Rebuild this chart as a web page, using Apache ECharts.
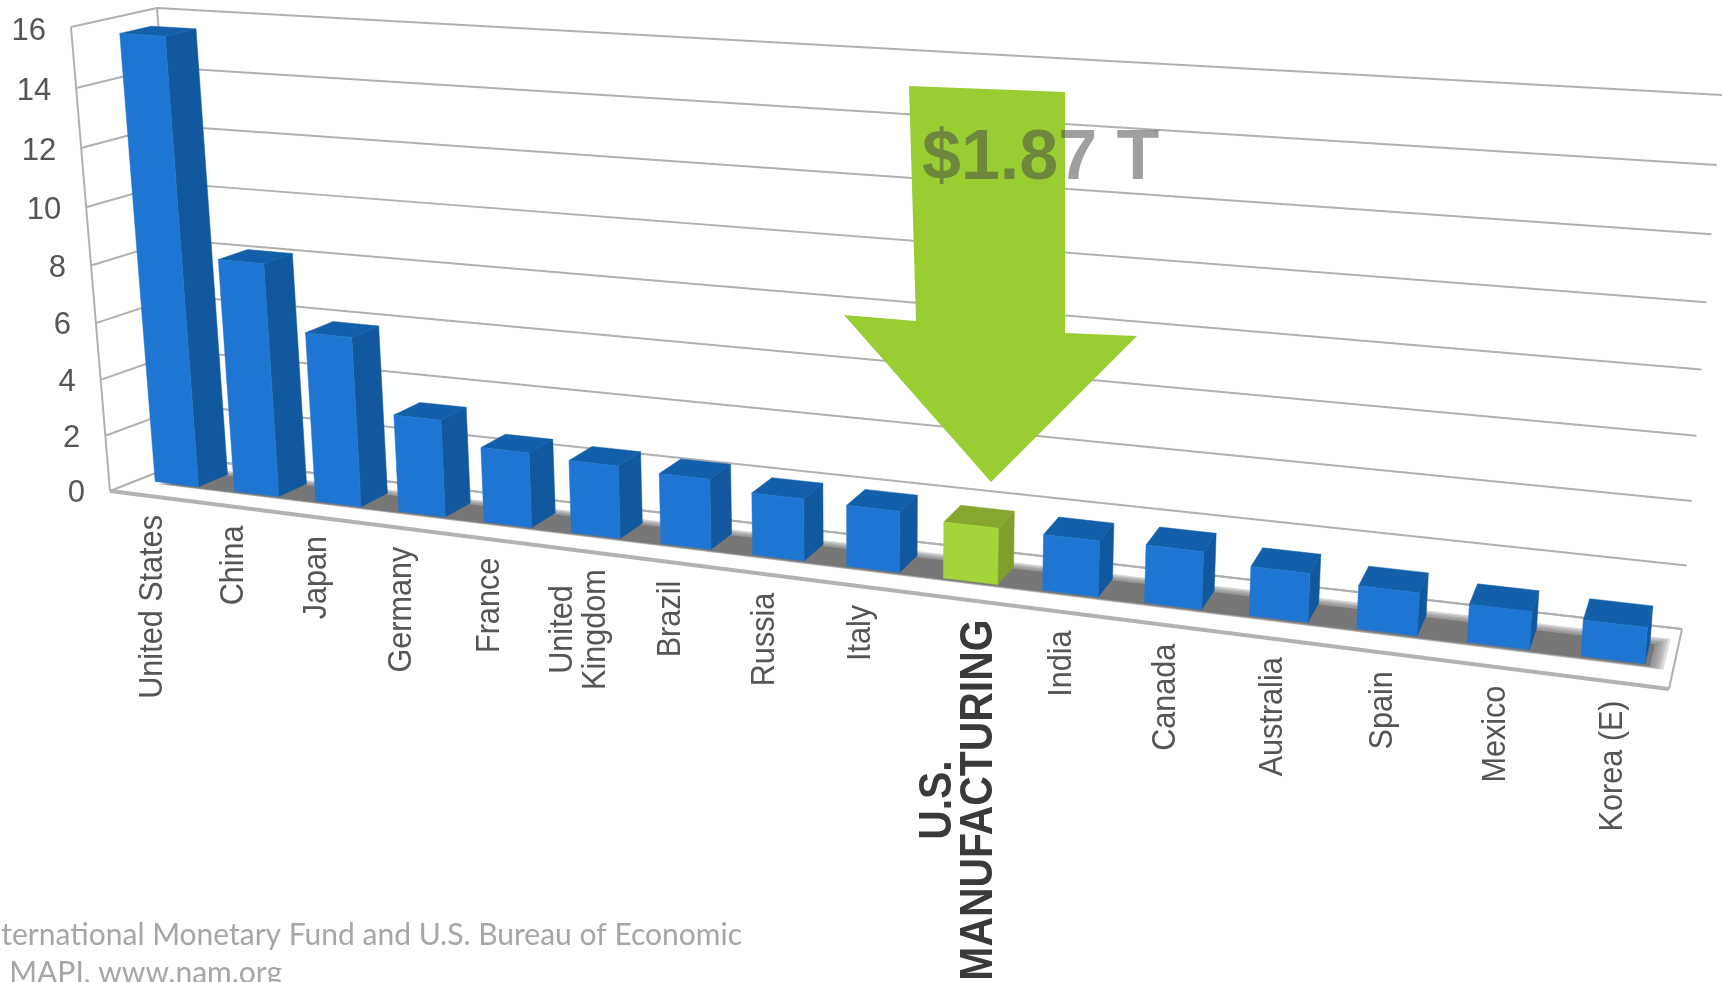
<!DOCTYPE html>
<html>
<head>
<meta charset="utf-8">
<title>GDP by country and U.S. manufacturing</title>
<style>html,body{margin:0;padding:0;background:#fff;overflow:hidden}#chart{width:1722px;height:982px}</style>
<script src="https://cdn.jsdelivr.net/npm/echarts@6/dist/echarts.min.js"></script>
</head>
<body>
<div id="chart"></div>
<script>
// Chart data, trillions of U.S. dollars
const categories = ['United States','China','Japan','Germany','France','United\nKingdom','Brazil','Russia','Italy','U.S.\nMANUFACTURING','India','Canada','Australia','Spain','Mexico','Korea (E)'];
const gdpValues = [15.6, 8.2, 5.95, 3.4, 2.6, 2.5, 2.4, 2.1, 2.05, 1.87, 1.84, 1.88, 1.58, 1.37, 1.2, 1.13];
const valueTicks = [0, 2, 4, 6, 8, 10, 12, 14, 16];
const highlightCategory = 'U.S.\nMANUFACTURING';
const calloutLabel = '$1.87 T';
const sourceLines = ['International Monetary Fund and U.S. Bureau of Economic', 'MAPI, www.nam.org'];

// Corners of the 3D chart box as seen on the page
const box = {
  frontBottomLeft: [110, 491], frontBottomRight: [1669, 689],
  backBottomLeft: [191, 459], backBottomRight: [1682, 629],
  frontTopLeft: [71, 27], frontTopRight: [1709, 139],
  backTopLeft: [157, 8], backTopRight: [1722, 95]
};
const widthPerspective = 1.23, heightPerspective = 1.058;
const barFill = 0.55, barShift = -0.02, barFront = 0.36, barBack = 0.73;
const bandFront = 0.33, bandBack = 0.7;

const lerp = (a, b, t) => [a[0] + (b[0] - a[0]) * t, a[1] + (b[1] - a[1]) * t];

// Turns a point of the cartesian grid plus a depth (0 front, 1 back) into a page position
function project(coordSys, px, py, depth) {
  const u = (px - coordSys.x) / coordSys.width;
  const w = 1 - (py - coordSys.y) / coordSys.height;
  const t = u / (u + widthPerspective * (1 - u));
  const v = w / (w + heightPerspective * (1 - w));
  const bottom = lerp(lerp(box.frontBottomLeft, box.frontBottomRight, t), lerp(box.backBottomLeft, box.backBottomRight, t), depth);
  const top = lerp(lerp(box.frontTopLeft, box.frontTopRight, t), lerp(box.backTopLeft, box.backTopRight, t), depth);
  return lerp(bottom, top, v);
}

const line = (a, b, color, width) => ({
  type: 'line',
  shape: { x1: a[0], y1: a[1], x2: b[0], y2: b[1] },
  style: { stroke: color, lineWidth: width, fill: null }
});
const face = (points, fill, extra) => ({
  type: 'polygon',
  shape: { points: points },
  style: Object.assign({ fill: fill, stroke: fill, lineWidth: 0.5 }, extra || {})
});

const measure = document.createElement('canvas').getContext('2d');
function longestLine(text, font) {
  measure.font = font;
  return Math.max.apply(null, text.split('\n').map(s => measure.measureText(s).width));
}

const GRID_COLOR = '#b0b0b0';

// Gridlines on the back and side walls, with the value labels
function renderTick(params, api) {
  const cs = params.coordSys;
  const tick = api.value(0);
  const y = api.coord([0, tick])[1];
  const xl = cs.x, xr = cs.x + cs.width;
  const frontLeft = project(cs, xl, y, 0);
  const backLeft = project(cs, xl, y, 1);
  const backRight = project(cs, xr, y, 1);
  return {
    type: 'group',
    children: [
      line(frontLeft, backLeft, GRID_COLOR, 2),
      line(backLeft, backRight, GRID_COLOR, 2),
      {
        type: 'text', x: frontLeft[0] - 25, y: frontLeft[1] + 2 + tick / 8,
        style: { text: String(tick), fontFamily: '"Liberation Sans"', fontSize: 31, fill: '#555555', textAlign: 'right', textVerticalAlign: 'middle' }
      }
    ]
  };
}

// Vertical wall edges, floor outline and the soft dark band under the bars
function renderFloor(params, api) {
  const cs = params.coordSys;
  const xl = cs.x, xr = cs.x + cs.width, yb = cs.y + cs.height, yt = cs.y;
  const P = (x, y, d) => project(cs, x, y, d);
  const band = cs.width / categories.length;
  const softness = [1, 0.8, 0.6, 0.4, 0.2, 0];
  const layers = softness.map(s => {
    const x0 = xl + band * (0.42 - 0.12 * s), x1 = xr - band * (0.2 - 0.12 * s);
    const z0 = bandFront - 0.03 * s, z1 = bandBack + 0.12 * s;
    return face([P(x0, yb, z0), P(x1, yb, z0), P(x1, yb, z1), P(x0, yb, z1)], '#777777', { opacity: s === 0 ? 1 : 0.26, lineWidth: 0 });
  });
  return {
    type: 'group',
    children: [
      line(P(xl, yb, 0), P(xl, yt, 0), GRID_COLOR, 2),
      line(P(xl, yb, 1), P(xl, yt, 1), GRID_COLOR, 2),
      line(P(xl, yb, 1), P(xr, yb, 1), GRID_COLOR, 2),
      line(P(xr, yb, 0), P(xr, yb, 1), GRID_COLOR, 2),
      line(P(xl, yb, 0), P(xr, yb, 0), '#b2b2b2', 4)
    ].concat(layers)
  };
}

// One box per category, with its rotated axis label
function renderBar(params, api) {
  const cs = params.coordSys;
  const i = api.value(0);
  const name = categories[i];
  const highlighted = name === highlightCategory;
  const base = api.coord([i, 0]);
  const head = api.coord([i, api.value(1)]);
  const bandWidth = api.size([1, 0])[0];
  const half = bandWidth * barFill / 2;
  const centre = base[0] + bandWidth * barShift;
  const x0 = centre - half, x1 = centre + half;
  const yb = base[1], yt = head[1];
  const P = (x, y, d) => project(cs, x, y, d);
  const colors = highlighted
    ? { front: '#a5d33a', side: '#7f9f2d', top: '#86a62f' }
    : { front: '#1e76d2', side: '#12589f', top: '#135fa9' };

  const fontSize = highlighted ? 47 : 34;
  const stretch = highlighted ? 0.87 : 0.9;
  const weight = highlighted ? 'bold' : 'normal';
  const font = weight + ' ' + fontSize + 'px "Liberation Sans"';
  const anchor = P(base[0], yb, 0);
  const length = longestLine(name, font) * stretch;

  return {
    type: 'group',
    children: [
      face([P(x1, yb, barFront), P(x1, yb, barBack), P(x1, yt, barBack), P(x1, yt, barFront)], colors.side),
      face([P(x0, yt, barFront), P(x1, yt, barFront), P(x1, yt, barBack), P(x0, yt, barBack)], colors.top),
      face([P(x0, yb, barFront), P(x1, yb, barFront), P(x1, yt, barFront), P(x0, yt, barFront)], colors.front),
      {
        type: 'text', x: anchor[0] + (highlighted ? 2 : 3), y: anchor[1] + (highlighted ? 21 : 19) + length / 2,
        rotation: Math.PI / 2, scaleX: stretch,
        style: {
          text: name, fontFamily: '"Liberation Sans"', fontSize: fontSize, fontWeight: weight,
          fill: highlighted ? '#3a3a3a' : '#555555', textAlign: 'center', textVerticalAlign: 'middle',
          lineHeight: highlighted ? 41 : 33
        }
      }
    ]
  };
}

const chart = echarts.init(document.getElementById('chart'), null, { renderer: 'canvas' });
chart.setOption({
  animation: false,
  backgroundColor: '#ffffff',
  grid: { left: 0, right: 0, top: 0, bottom: 0 },
  xAxis: { type: 'category', data: categories, show: false },
  yAxis: { type: 'value', min: 0, max: 16, interval: 2, show: false },
  series: [
    { type: 'custom', name: 'Value grid', z: 1, silent: true, renderItem: renderTick, data: valueTicks.map(v => [v]), encode: { y: 0 } },
    { type: 'custom', name: 'Floor', z: 2, silent: true, renderItem: renderFloor, data: [[0]] },
    { type: 'custom', name: 'GDP', z: 3, renderItem: renderBar, data: gdpValues.map((v, i) => [i, v]), encode: { x: 0, y: 1 } }
  ],
  graphic: [
    {
      type: 'polygon', z: 50,
      shape: { points: [[909, 86], [1065, 92], [1065, 333], [1137, 336], [991, 482], [844, 315], [916, 321]] },
      style: { fill: '#9acd32' }
    },
    {
      type: 'text', z: 51, x: 922, y: 160,
      style: { text: calloutLabel, fontFamily: '"Liberation Sans"', fontWeight: 'bold', fontSize: 70, fill: 'rgb(70,70,70)', opacity: 0.52, textVerticalAlign: 'middle' }
    },
    {
      type: 'text', z: 51, x: 742, y: 935,
      style: { text: sourceLines[0], fontFamily: 'Lato', fontSize: 30, fill: '#a6a6a6', textAlign: 'right', textVerticalAlign: 'middle' }
    },
    {
      type: 'text', z: 51, x: 282, y: 973,
      style: { text: sourceLines[1], fontFamily: 'Lato', fontSize: 30, fill: '#a6a6a6', textAlign: 'right', textVerticalAlign: 'middle' }
    }
  ]
});
</script>
</body>
</html>
